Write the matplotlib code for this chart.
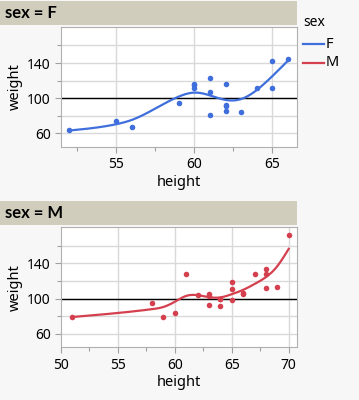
import numpy as np
import matplotlib
matplotlib.use("Agg")
import matplotlib.pyplot as plt
from matplotlib.lines import Line2D

# ---- data ----
f_height = [52, 55, 56, 59, 60, 60, 60, 61, 61, 61, 62, 62, 62, 62, 63, 64, 65, 65, 66]
f_weight = [64, 74, 67, 95, 112, 115, 116, 123, 107, 81, 116, 92, 91, 85, 84, 112, 142, 112, 145]
m_height = [51, 58, 59, 60, 61, 62, 63, 63, 63, 64, 64, 64, 65, 65, 65, 66, 66, 67, 68, 68, 68, 69, 70]
m_weight = [79, 95, 79, 84, 128, 104, 105, 103, 93, 99, 99, 92, 119, 111, 98, 106, 105, 128, 134, 128, 112, 113, 172]
ref_weight = 100
panel_titles = ["sex = F", "sex = M"]
legend_labels = ["F", "M"]

F_COL = "#3f6fdc"
M_COL = "#d5404f"
BG = "#f7f7f7"
HEAD = "#d0cdbc"
SMOOTH = 1.6

plt.rcParams['font.family'] = ['Noto Sans', 'DejaVu Sans']


def smoothing_spline(x, y, lam, grid):
    x = np.asarray(x, float); y = np.asarray(y, float)
    t = np.unique(x)
    n = len(t)
    w = np.array([np.sum(x == v) for v in t], float)
    yb = np.array([np.mean(y[x == v]) for v in t])
    h = np.diff(t)
    Q = np.zeros((n, n - 2)); R = np.zeros((n - 2, n - 2))
    for j in range(1, n - 1):
        Q[j - 1, j - 1] = 1 / h[j - 1]
        Q[j, j - 1] = -1 / h[j - 1] - 1 / h[j]
        Q[j + 1, j - 1] = 1 / h[j]
        R[j - 1, j - 1] = (h[j - 1] + h[j]) / 3
        if j < n - 2:
            R[j - 1, j] = R[j, j - 1] = h[j] / 6
    K = Q @ np.linalg.solve(R, Q.T)
    g = np.linalg.solve(np.diag(w) + lam * K, w * yb)
    gam = np.zeros(n)
    gam[1:-1] = np.linalg.solve(R, Q.T @ g)
    out = np.empty_like(grid)
    for k, xv in enumerate(grid):
        i = min(max(np.searchsorted(t, xv) - 1, 0), n - 2)
        hi = h[i]
        a = (t[i + 1] - xv) / hi; b = (xv - t[i]) / hi
        out[k] = a * g[i] + b * g[i + 1] + ((a**3 - a) * gam[i] + (b**3 - b) * gam[i + 1]) * hi**2 / 6
    return out


fig = plt.figure(figsize=(3.59, 4.0), dpi=100, facecolor=BG)
W, H = 359, 400

def fx(px): return px / W
def fy(py): return 1 - py / H

panels = [
    dict(x=f_height, y=f_weight, col=F_COL, title=panel_titles[0],
         ax_box=(61, 27, 297, 147), head=(0, 1, 297, 24.5), xlim=(51.46, 66.58),
         xticks=[55, 60, 65], xminor=[52.5, 57.5, 62.5], xgrid=[55, 60, 65]),
    dict(x=m_height, y=m_weight, col=M_COL, title=panel_titles[1],
         ax_box=(61, 227.3, 297, 347.3), head=(0, 200.7, 297, 225), xlim=(50, 70.73),
         xticks=[50, 55, 60, 65, 70], xminor=[52.5, 57.5, 62.5, 67.5], xgrid=[55, 60, 65, 70]),
]

for p in panels:
    x0, y0, x1, y1 = p['head']
    hax = fig.add_axes([fx(x0), fy(y1), fx(x1 - x0), (y1 - y0) / H])
    hax.set_facecolor(HEAD)
    hax.set_xticks([]); hax.set_yticks([])
    for s in hax.spines.values():
        s.set_visible(False)
    hax.text(5 / (x1 - x0), 0.5, p['title'], transform=hax.transAxes, ha='left', va='center',
             fontsize=12, fontweight='bold', family=['Lato', 'DejaVu Sans'], color='black')

    x0, y0, x1, y1 = p['ax_box']
    ax = fig.add_axes([fx(x0), fy(y1), fx(x1 - x0), (y1 - y0) / H])
    ax.set_facecolor('white')
    ax.set_xlim(*p['xlim'])
    ax.set_ylim(44.5, 181)
    for gx in p['xgrid']:
        ax.axvline(gx, color='#d9d9d9', lw=1, zorder=0)
    for gy in [60, 80, 100, 120, 140, 160]:
        ax.axhline(gy, color='#d9d9d9', lw=1, zorder=0)
    ax.axhline(ref_weight, color='black', lw=1, zorder=1)
    ax.scatter(p['x'], p['y'], s=16, color=p['col'], zorder=3, linewidths=0)
    grid = np.linspace(min(p['x']), max(p['x']), 300)
    ax.plot(grid, smoothing_spline(p['x'], p['y'], SMOOTH, grid), color=p['col'], lw=1.6, zorder=2)
    ax.set_xticks(p['xticks'])
    ax.set_xticks(p['xminor'], minor=True)
    ax.set_yticks([60, 100, 140])
    ax.set_yticks([80, 120, 160], minor=True)
    ax.tick_params(which='both', direction='out', color='#a0a0a0', labelsize=10, length=4, width=0.8)
    ax.tick_params(which='minor', length=3)
    for s in ax.spines.values():
        s.set_color('#b0b0b0'); s.set_linewidth(0.8)
    ax.set_xlabel('height', fontsize=10.5, labelpad=2)
    ax.set_ylabel('weight', fontsize=10.5, labelpad=3)

# legend
fig.text(fx(303), fy(22), 'sex', fontsize=10, ha='left', va='center')
for lab, col, py in [(legend_labels[0], F_COL, 44), (legend_labels[1], M_COL, 63)]:
    fig.add_artist(Line2D([fx(303), fx(324)], [fy(py), fy(py)], color=col, lw=1.6))
    fig.text(fx(326), fy(py), lab, fontsize=10.5, ha='left', va='center')

fig.savefig('out.png', dpi=100, facecolor=BG)
